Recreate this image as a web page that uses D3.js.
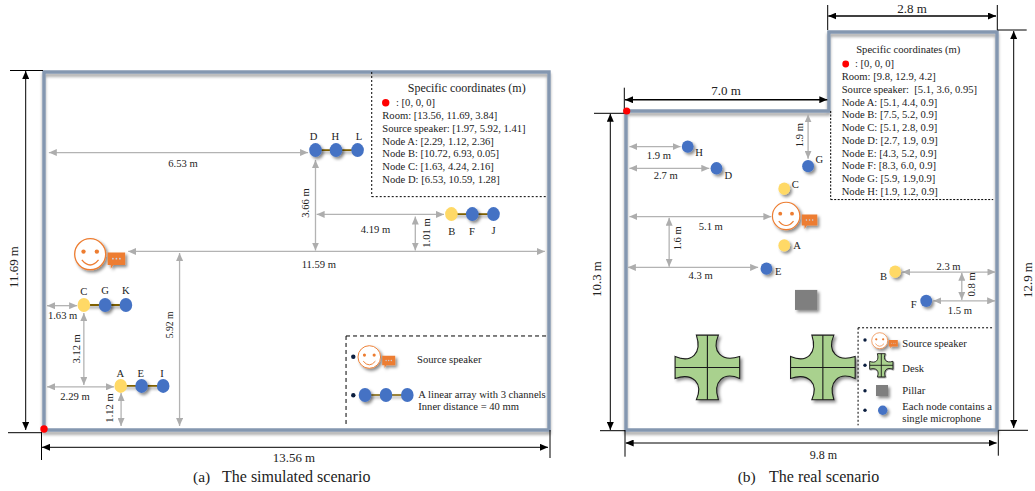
<!DOCTYPE html>
<html lang="en">
  <head>
    <meta charset="UTF-8" />
    <title>Simulated and real scenario</title>
    <script src="https://cdn.jsdelivr.net/npm/d3@7"></script>
    <style>
      body { margin: 0; background: #fff; }
      svg { display: block; }
      text { font-family: "Liberation Serif", serif; fill: #222; }
    </style>
  </head>
  <body>
    <svg width="1035" height="491"></svg>
    <script>
      // everything below is metres as drawn in the floor plans (not to true scale)
      const roomA = [[0, 0], [13.56, 0], [13.56, 11.69], [0, 11.69]];
      const roomB = [[0, 0], [5.36, 0], [5.36, -2.55], [9.8, -2.55], [9.8, 10.3], [0, 10.3]];

      // name, x, y, label x, label y
      const nodesA = [
        ["A", 2.06, 1.44, 2.05, 1.86], ["E", 2.62, 1.44, 2.6, 1.86], ["I", 3.2, 1.44, 3.17, 1.86],
        ["C", 1.07, 4.08, 1.07, 4.53], ["G", 1.64, 4.08, 1.64, 4.56], ["K", 2.2, 4.08, 2.2, 4.56],
        ["B", 10.94, 7.05, 10.95, 6.48], ["F", 11.5, 7.05, 11.49, 6.48], ["J", 12.07, 7.05, 12.07, 6.53],
        ["D", 7.29, 9.14, 7.24, 9.58], ["H", 7.84, 9.14, 7.82, 9.58], ["L", 8.42, 9.14, 8.46, 9.58]
      ];
      const nodesB = [
        ["H", 1.63, 1.15, 1.93, 1.35], ["D", 2.39, 1.85, 2.7, 2.09], ["G", 4.81, 1.78, 5.11, 1.56],
        ["C", 4.18, 2.51, 4.47, 2.37], ["A", 4.18, 4.34, 4.52, 4.35], ["E", 3.71, 5.09, 4.02, 5.19],
        ["B", 7.11, 5.19, 6.8, 5.35], ["F", 7.93, 6.13, 7.6, 6.26]
      ];
      const yellowNodes = ["A", "B", "C"];
      const plainNodesA = ["A", "I", "C", "K", "B", "J", "L"];
      const speakerA = [1.24, 5.74];
      const speakerB = [4.23, 3.39];
      const deskCentres = [[2.15, 8.28], [5.2, 8.28]];
      const pillar = [4.76, 6.1];

      // text, x1, y1, x2, y2, label x, label y, rotated, font size
      const arrowsA = [
        ["6.53 m", 0.13, 9.06, 7.09, 9.06, 3.73, 8.7, 0, 10.6],
        ["11.59 m", 2.26, 5.83, 13.45, 5.83, 7.38, 5.42, 0, 10.6],
        ["5.92 m", 3.64, 5.78, 3.64, 0.13, 3.38, 3.43, 1, 9.6],
        ["3.66 m", 7.29, 8.82, 7.29, 5.86, 7.01, 7.41, 1, 10.6],
        ["4.19 m", 7.32, 7.04, 10.74, 7.04, 8.9, 6.56, 0, 10.6],
        ["1.01 m", 9.97, 6.97, 9.97, 5.86, 10.26, 6.43, 1, 10.6],
        ["1.63 m", 0.08, 4.06, 0.89, 4.06, 0.5, 3.73, 0, 10.6],
        ["3.12 m", 1.07, 3.82, 1.07, 1.47, 0.88, 2.65, 1, 10.6],
        ["2.29 m", 0.08, 1.41, 1.88, 1.41, 0.83, 1.08, 0, 10.6],
        ["1.12 m", 2.07, 1.21, 2.07, 0.13, 1.75, 0.72, 1, 10.6]
      ];
      const arrowsB = [
        ["1.9 m", 0.09, 1.15, 1.44, 1.15, 0.87, 1.44, 0, 10.6],
        ["2.7 m", 0.09, 1.85, 2.2, 1.85, 1.05, 2.09, 0, 10.6],
        ["5.1 m", 0.09, 3.41, 3.84, 3.41, 2.24, 3.74, 0, 10.6],
        ["1.6 m", 1.14, 3.45, 1.14, 5.03, 1.37, 4.11, 1, 10.6],
        ["4.3 m", 0.05, 5.05, 3.49, 5.05, 1.97, 5.32, 0, 10.6],
        ["1.9 m", 4.81, 0.11, 4.81, 1.54, 4.57, 0.78, 1, 10.6],
        ["2.3 m", 7.3, 5.2, 9.76, 5.2, 8.52, 5.03, 0, 10.6],
        ["0.8 m", 8.87, 5.22, 8.87, 6.1, 9.12, 5.6, 1, 10.6],
        ["1.5 m", 8.12, 6.13, 9.75, 6.13, 8.82, 6.45, 0, 10.6]
      ];

      const coordsA = [
        "Room: [13.56, 11.69, 3.84]",
        "Source speaker: [1.97, 5.92, 1.41]",
        "Node A: [2.29, 1.12, 2.36]",
        "Node B: [10.72, 6.93, 0.05]",
        "Node C: [1.63, 4.24, 2.16]",
        "Node D: [6.53, 10.59, 1.28]"
      ];
      const coordsB = [
        "Room: [9.8, 12.9, 4.2]",
        "Source speaker: \u00a0[5.1, 3.6, 0.95]",
        "Node A: [5.1, 4.4, 0.9]",
        "Node B: [7.5, 5.2, 0.9]",
        "Node C: [5.1, 2.8, 0.9]",
        "Node D: [2.7, 1.9, 0.9]",
        "Node E: [4.3, 5.2, 0.9]",
        "Node F: [8.3, 6.0, 0.9]",
        "Node G: [5.9, 1.9,0.9]",
        "Node H: [1.9, 1.2, 0.9]"
      ];

      const xA = d3.scaleLinear().domain([0, 13.56]).range([44, 549]);
      const yA = d3.scaleLinear().domain([0, 11.69]).range([430, 72]);
      const xB = d3.scaleLinear().domain([0, 9.8]).range([626, 997]);
      const yB = d3.scaleLinear().domain([0, 10.3]).range([111, 430]);

      const svg = d3.select("svg");
      const defs = svg.append("defs");

      // user space regions, a flat horizontal line has an empty bounding box
      const shadow = defs.append("filter").attr("id", "shadow")
        .attr("filterUnits", "userSpaceOnUse")
        .attr("x", -1100).attr("y", -600).attr("width", 2200).attr("height", 1200);
      shadow.append("feDropShadow")
        .attr("dx", 2).attr("dy", 2.2).attr("stdDeviation", 1.4)
        .attr("flood-color", "#000").attr("flood-opacity", 0.45);
      const wallShadow = defs.append("filter").attr("id", "wallShadow")
        .attr("filterUnits", "userSpaceOnUse")
        .attr("x", 0).attr("y", 0).attr("width", 1035).attr("height", 491);
      wallShadow.append("feDropShadow")
        .attr("dx", 0).attr("dy", 3).attr("stdDeviation", 1.5)
        .attr("flood-color", "#000").attr("flood-opacity", 0.35);

      [["headGrey", "#adadad"], ["headBlack", "#000"]].forEach(([id, color]) => {
        defs.append("marker").attr("id", id)
          .attr("viewBox", "0 0 8 7").attr("refX", 8).attr("refY", 3.5)
          .attr("markerWidth", 8).attr("markerHeight", 7)
          .attr("markerUnits", "userSpaceOnUse")
          .attr("orient", "auto-start-reverse")
          .append("path").attr("d", "M0,0L8,3.5L0,7Z").attr("fill", color);
      });

      function label(x, y, txt, size, opts = {}) {
        const t = svg.append("text")
          .attr("font-size", size)
          .attr("text-anchor", opts.anchor || "middle")
          .attr("dominant-baseline", "central")
          .text(txt);
        if (opts.rotate) t.attr("transform", `translate(${x},${y}) rotate(-90)`);
        else t.attr("x", x).attr("y", y);
        return t;
      }

      function seg(x1, y1, x2, y2, color, width, dash) {
        return svg.append("line")
          .attr("x1", x1).attr("y1", y1).attr("x2", x2).attr("y2", y2)
          .attr("stroke", color).attr("stroke-width", width)
          .attr("stroke-dasharray", dash || null);
      }

      function arrow(x1, y1, x2, y2, id, color, width) {
        return seg(x1, y1, x2, y2, color, width)
          .attr("marker-start", `url(#${id})`)
          .attr("marker-end", `url(#${id})`);
      }

      function drawRoom(points, x, y) {
        const line = d3.line().x((d) => x(d[0])).y((d) => y(d[1])).curve(d3.curveLinearClosed);
        svg.append("path").attr("d", line(points))
          .attr("fill", "none").attr("stroke", "#8497b0").attr("stroke-width", 3.4)
          .attr("filter", "url(#wallShadow)");
      }

      function drawArrows(rows, x, y) {
        rows.forEach(([txt, x1, y1, x2, y2, lx, ly, rot, size]) => {
          arrow(x(x1), y(y1), x(x2), y(y2), "headGrey", "#b3b3b3", 1.3);
          label(x(lx), y(ly), txt, size, { rotate: rot });
        });
      }

      function speaker(cx, cy, r) {
        const g = svg.append("g").attr("transform", `translate(${cx},${cy})`);
        g.append("circle").attr("r", r).attr("fill", "#fff")
          .attr("stroke", "#ed7d31").attr("stroke-width", r * 0.085)
          .attr("filter", "url(#shadow)");
        [-1, 1].forEach((s) => {
          g.append("circle").attr("cx", s * r * 0.43).attr("cy", -r * 0.17)
            .attr("r", r * 0.14).attr("fill", "#ed7d31");
        });
        g.append("path")
          .attr("d", `M${-r * 0.54},${r * 0.37}Q0,${r * 1.02} ${r * 0.54},${r * 0.37}`)
          .attr("fill", "none").attr("stroke", "#ed7d31").attr("stroke-width", r * 0.085);
      }

      function bubble(cx, cy, w) {
        const h = w * 0.72;
        const g = svg.append("g").attr("transform", `translate(${cx},${cy})`);
        g.append("path")
          .attr("d", `M${-w / 2},${-h / 2}H${w / 2}V${h / 2}H${-w * 0.18}L${-w * 0.32},${h * 0.8}V${h / 2}H${-w / 2}Z`)
          .attr("fill", "#ed7d31").attr("filter", "url(#shadow)");
        [-1, 0, 1].forEach((s) => {
          g.append("circle").attr("cx", s * w * 0.2).attr("cy", 0)
            .attr("r", w * 0.05).attr("fill", "#c9d3e6");
        });
      }

      function dot(cx, cy, rx, ry, color, withShadow) {
        return svg.append("ellipse")
          .attr("cx", cx).attr("cy", cy).attr("rx", rx).attr("ry", ry)
          .attr("fill", color)
          .attr("filter", withShadow ? "url(#shadow)" : null);
      }

      function desk(cx, cy, k, lineWidth) {
        const g = svg.append("g").attr("transform", `translate(${cx},${cy}) scale(${k})`);
        const a = 11, e = 32.3;
        const corner = (rot) => {
          const r = ([px, py]) => {
            const t = rot * Math.PI / 2;
            return [px * Math.cos(t) - py * Math.sin(t), px * Math.sin(t) + py * Math.cos(t)];
          };
          const c1 = r([e - 28.3, -16]), c2 = r([14, -5]), end = r([e, -a]);
          return `C${c1} ${c2} ${end}`;
        };
        const d = `M${a},${-e}` + corner(0) +
          `L${e},${a}` + corner(1) +
          `L${-a},${e}` + corner(2) +
          `L${-e},${-a}` + corner(3) + "Z";
        g.append("path").attr("d", d).attr("fill", "#a9d18e")
          .attr("stroke", "#1a1a1a").attr("stroke-width", lineWidth / k)
          .attr("filter", "url(#shadow)");
        g.append("path").attr("d", `M${-e},0H${e}M0,${-e}V${e}`)
          .attr("stroke", "#1a1a1a").attr("stroke-width", lineWidth / k);
      }

      // ---------- (a) simulated ----------
      drawRoom(roomA, xA, yA);
      drawArrows(arrowsA, xA, yA);

      d3.range(0, nodesA.length, 3).forEach((i) => {
        const first = nodesA[i], last = nodesA[i + 2];
        seg(xA(first[1]), yA(first[2]), xA(last[1]), yA(last[2]), "#7f6000", 1.9)
          .attr("filter", "url(#shadow)");
      });
      nodesA.forEach(([name, nx, ny, lx, ly]) => {
        dot(xA(nx), yA(ny), 6.3, 7, yellowNodes.includes(name) ? "#ffd966" : "#4472c4",
          !plainNodesA.includes(name));
        label(xA(lx), yA(ly), name, 10.6);
      });
      speaker(xA(speakerA[0]), yA(speakerA[1]), 15.5);
      bubble(xA(speakerA[0]) + 26.2, yA(speakerA[1]) + 4.5, 17.5);

      // coordinates box
      seg(xA(8.8), yA(11.69), xA(8.8), yA(7.62), "#000", 1, "2 2");
      seg(xA(8.8), yA(7.62), xA(13.5), yA(7.62), "#000", 1, "2 2");
      label(466.7, 88.3, "Specific coordinates (m)", 12);
      dot(385.7, 102.7, 3.7, 3.7, "#f00");
      label(396, 102.7, ": [0, 0, 0]", 10.6, { anchor: "start" });
      coordsA.forEach((txt, i) => label(382.3, 115.5 + i * 12.75, txt, 10.6, { anchor: "start" }));

      // legend box
      seg(xA(8.11), yA(3.07), xA(13.5), yA(3.07), "#000", 1, "4 3");
      seg(xA(8.11), yA(3.07), xA(8.11), yA(0.15), "#000", 1, "4 3");
      dot(353.3, 356.7, 2.2, 2.2, "#0b1e3f");
      dot(353.3, 395.3, 2.2, 2.2, "#0b1e3f");
      speaker(369.3, 357, 11.3);
      bubble(388.7, 360.5, 13);
      label(417, 359.7, "Source speaker", 10.6, { anchor: "start" });
      seg(365, 395, 407.3, 395, "#7f6000", 1.5).attr("filter", "url(#shadow)");
      [365, 386, 407.3].forEach((cx) => dot(cx, 395, 6.3, 7, "#4472c4", cx === 365));
      label(418.3, 394.7, "A linear array with 3 channels", 10.6, { anchor: "start" });
      label(418.3, 406.7, "Inner distance = 40 mm", 10.6, { anchor: "start" });

      // dimensions
      seg(10, 70.5, 43, 70.5, "#000", 1);
      seg(8, 432.7, 42, 432.7, "#000", 1);
      seg(41.5, 432, 41.5, 460, "#000", 1);
      seg(550, 430, 550, 458, "#000", 1);
      arrow(25.7, yA(11.69) - 1, 25.7, yA(0), "headBlack", "#000", 1);
      arrow(xA(0) - 2, 447.3, xA(13.56) - 1, 447.3, "headBlack", "#000", 1);
      label(14, 267, "11.69 m", 12.9, { rotate: 1 });
      label(294, 457.5, "13.56 m", 12.9);
      label(193, 476.7, "(a)", 15.5, { anchor: "start" });
      label(222, 476.7, "The simulated scenario", 16, { anchor: "start" });

      // ---------- (b) real ----------
      drawRoom(roomB, xB, yB);
      drawArrows(arrowsB, xB, yB);

      nodesB.forEach(([name, nx, ny, lx, ly]) => {
        dot(xB(nx), yB(ny), 5.9, 6.2, yellowNodes.includes(name) ? "#ffd966" : "#4472c4", true);
        label(xB(lx), yB(ly), name, 10.6);
      });
      speaker(xB(speakerB[0]), yB(speakerB[1]), 13.7);
      bubble(xB(speakerB[0]) + 23.4, yB(speakerB[1]) + 4, 15.5);

      svg.append("rect")
        .attr("x", xB(pillar[0]) - 11.2).attr("y", yB(pillar[1]) - 10)
        .attr("width", 22.3).attr("height", 20)
        .attr("fill", "#7f7f7f").attr("filter", "url(#shadow)");
      deskCentres.forEach(([dx, dy]) => desk(xB(dx), yB(dy), 1, 1.1));

      // coordinates box
      seg(830.7, yB(0), 830.7, yB(2.86), "#000", 1, "2 1.5");
      seg(830.7, yB(2.86), xB(9.7), yB(2.86), "#000", 1, "2 1.5");
      label(908.3, 49.3, "Specific coordinates (m)", 10.6);
      dot(845.7, 64, 3.4, 3.4, "#f00");
      label(855, 63.7, ": [0, 0, 0]", 10.6, { anchor: "start" });
      coordsB.forEach((txt, i) => label(841.7, 76.7 + i * 12.73, txt, 10.6, { anchor: "start" }));

      // legend box
      seg(xB(6.13), yB(7.0), xB(9.7), yB(7.0), "#000", 1, "2 2");
      seg(xB(6.13), yB(7.0), xB(6.13), yB(10.15), "#000", 1, "2 2");
      [340, 365.3, 390.7, 410.3].forEach((cy) => dot(865, cy, 1.7, 1.7, "#0b1e3f"));
      speaker(879.7, 340.7, 8);
      bubble(893.3, 343.3, 9);
      desk(881.3, 365.3, 0.36, 0.9);
      svg.append("rect").attr("x", 876).attr("y", 385).attr("width", 12).attr("height", 11)
        .attr("fill", "#7f7f7f").attr("filter", "url(#shadow)");
      dot(882.7, 410.3, 4.7, 4.7, "#4472c4", true);
      label(902.3, 343.7, "Source speaker", 10.6, { anchor: "start" });
      label(902.3, 368.7, "Desk", 10.6, { anchor: "start" });
      label(902.3, 390.7, "Pillar", 10.6, { anchor: "start" });
      label(902.3, 406, "Each node contains a", 10.6, { anchor: "start" });
      label(902.3, 418.7, "single microphone", 10.6, { anchor: "start" });

      // dimensions
      seg(624.3, 87.7, 624.3, 113, "#000", 1);
      seg(594, 113.3, 625, 113.3, "#000", 1);
      seg(600, 430.7, 625, 430.7, "#000", 1);
      seg(625, 430, 625, 456.7, "#000", 1);
      seg(827.7, 5, 827.7, 30, "#000", 1);
      seg(997.3, 5, 997.3, 30, "#000", 1);
      seg(997.3, 30, 1026.7, 30, "#000", 1);
      seg(998.3, 430.3, 1028, 430.3, "#000", 1);
      seg(998.3, 430.3, 998.3, 455.7, "#000", 1);
      arrow(625, 99.7, 827.3, 99.7, "headBlack", "#000", 1.5);
      arrow(828.3, 16, 996, 16, "headBlack", "#000", 1.5);
      arrow(1013.7, 31, 1013.7, 428, "headBlack", "#000", 1);
      arrow(610.3, 113.7, 610.3, 430, "headBlack", "#000", 1);
      arrow(625.7, 443, 996.7, 443, "headBlack", "#000", 1);
      label(726, 90.7, "7.0 m", 13);
      label(912, 8, "2.8 m", 13);
      label(597, 279, "10.3 m", 12.9, { rotate: 1 });
      label(1027.5, 280, "12.9 m", 12.9, { rotate: 1 });
      label(823.3, 454.7, "9.8 m", 12);
      label(737.7, 476.7, "(b)", 15.5, { anchor: "start" });
      label(769, 476.7, "The real scenario", 16, { anchor: "start" });

      // origin markers on top of the walls
      dot(xA(0), yA(0) - 1, 3.7, 3.7, "#f00");
      dot(xB(0) + 0.7, yB(0), 3.6, 3.6, "#f00");
    </script>
  </body>
</html>
